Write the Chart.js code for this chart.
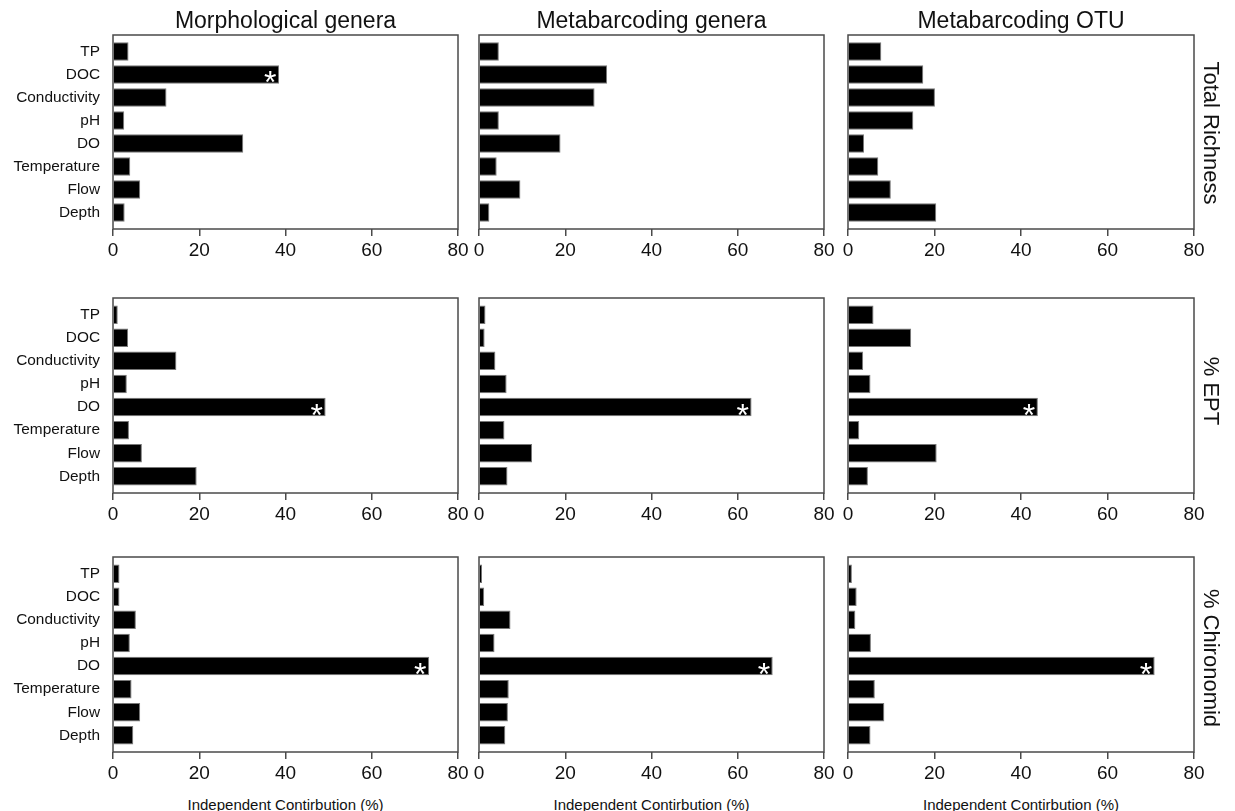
<!DOCTYPE html>
<html>
<head>
<meta charset="utf-8">
<script src="https://cdn.jsdelivr.net/npm/chart.js@4"></script>
<style>
  html, body { margin: 0; padding: 0; background: #fff; }
  #wrap { position: relative; width: 1235px; height: 811px; overflow: hidden; font-family: 'Liberation Sans', Arial, sans-serif; color: #111; }
  canvas { position: absolute; }
  .ctitle { position: absolute; font-size: 23px; line-height: 23px; white-space: nowrap; transform: translateX(-50%); }
  .rtitle { position: absolute; font-size: 22px; line-height: 22px; white-space: nowrap; transform: translate(-50%, -50%) rotate(90deg); }
  .xtitle { position: absolute; font-size: 15px; line-height: 15px; white-space: nowrap; transform: translateX(-50%); }
</style>
</head>
<body>
<div id="wrap"></div>
<script>
// ---------------- data ----------------
const categories = ['TP', 'DOC', 'Conductivity', 'pH', 'DO', 'Temperature', 'Flow', 'Depth'];
const xTicks = [0, 20, 40, 60, 80];
const columnTitles = ['Morphological genera', 'Metabarcoding genera', 'Metabarcoding OTU'];
const rowTitles = ['Total Richness', '% EPT', '% Chironomid'];
const xAxisTitle = 'Independent Contirbution (%)';

// Total Richness
const richnessMorph   = [3.6, 38.5, 12.4, 2.6, 30.2, 4.0, 6.3, 2.7];
const richnessMetaGen = [4.6, 29.7, 26.8, 4.6, 18.9, 4.1, 9.6, 2.4];
const richnessOTU     = [7.7, 17.4, 20.1, 15.1, 3.7, 7.0, 9.9, 20.4];
// % EPT
const eptMorph   = [1.1, 3.5, 14.7, 3.2, 49.3, 3.7, 6.7, 19.4];
const eptMetaGen = [1.5, 1.3, 3.8, 6.4, 63.2, 5.9, 12.3, 6.6];
const eptOTU     = [5.9, 14.6, 3.5, 5.2, 43.9, 2.6, 20.5, 4.6];
// % Chironomid
const chiroMorph   = [1.5, 1.5, 5.3, 3.9, 73.3, 4.3, 6.3, 4.7];
const chiroMetaGen = [0.7, 1.2, 7.3, 3.6, 68.1, 6.9, 6.7, 6.1];
const chiroOTU     = [0.9, 2.0, 1.7, 5.3, 70.9, 6.2, 8.4, 5.2];

// significant predictor (asterisk) per panel, by category name
const sigRichness = ['DOC', null, null];
const sigEPT      = ['DO', 'DO', 'DO'];
const sigChiro    = ['DO', 'DO', 'DO'];

const panelValues = [
  [richnessMorph, richnessMetaGen, richnessOTU],
  [eptMorph, eptMetaGen, eptOTU],
  [chiroMorph, chiroMetaGen, chiroOTU]
];
const panelSig = [sigRichness, sigEPT, sigChiro];

// ---------------- layout ----------------
const FONT = "'Liberation Sans', Arial, sans-serif";
const colPlot = [[113, 458], [479, 824], [848, 1194]];
const rowPlot = [[35, 229], [298, 493], [557, 752]];
const FRAME = '#4a4a4a';

const framePlugin = {
  id: 'frame',
  afterDatasetsDraw(chart) {
    const { ctx, chartArea: a } = chart;
    ctx.save();
    ctx.strokeStyle = FRAME;
    ctx.lineWidth = 1.5;
    ctx.strokeRect(a.left, a.top, a.right - a.left, a.bottom - a.top);
    ctx.restore();
  }
};

const starPlugin = {
  id: 'star',
  afterDatasetsDraw(chart, args, opts) {
    if (opts.index == null || opts.index < 0) return;
    const el = chart.getDatasetMeta(0).data[opts.index];
    if (!el) return;
    const { ctx } = chart;
    ctx.save();
    ctx.font = '40px ' + FONT;
    let m = ctx.measureText('*');
    const gw = m.actualBoundingBoxLeft + m.actualBoundingBoxRight;
    const size = 40 * 12 / gw;
    ctx.font = size + 'px ' + FONT;
    m = ctx.measureText('*');
    ctx.fillStyle = '#fff';
    ctx.textAlign = 'left';
    ctx.textBaseline = 'alphabetic';
    const cy = el.y + 2.5;
    const by = cy + (m.actualBoundingBoxAscent - m.actualBoundingBoxDescent) / 2;
    const bx = el.x - 3 - m.actualBoundingBoxRight;
    ctx.fillText('*', bx, by);
    ctx.restore();
  }
};

const wrap = document.getElementById('wrap');

for (let r = 0; r < 3; r++) {
  for (let c = 0; c < 3; c++) {
    const [pl, pr] = colPlot[c];
    const [pt, pb] = rowPlot[r];
    const yW = c === 0 ? 113 : 10;
    const padTop = 3, padRight = 14, xH = 36;
    const cv = document.createElement('canvas');
    const w = yW + (pr - pl) + padRight;
    const h = padTop + (pb - pt) + xH;
    cv.width = w; cv.height = h;
    cv.style.left = (pl - yW) + 'px';
    cv.style.top = (pt - padTop) + 'px';
    cv.style.width = w + 'px'; cv.style.height = h + 'px';
    wrap.appendChild(cv);

    const vals = panelValues[r][c];
    const sigName = panelSig[r][c];
    new Chart(cv, {
      type: 'bar',
      data: {
        datasets: [{
          data: vals.map((v, i) => ({ x: v, y: i })),
          backgroundColor: '#000',
          borderColor: '#777',
          borderWidth: 1,
          barPercentage: 0.8,
          categoryPercentage: 1
        }]
      },
      options: {
        indexAxis: 'y',
        responsive: false,
        maintainAspectRatio: false,
        animation: false,
        devicePixelRatio: 1,
        layout: { padding: { top: padTop, right: padRight, left: 0, bottom: 0 } },
        plugins: {
          legend: { display: false },
          tooltip: { enabled: false },
          star: { index: sigName ? categories.indexOf(sigName) : -1 }
        },
        scales: {
          x: {
            type: 'linear',
            min: xTicks[0],
            max: xTicks[xTicks.length - 1],
            offset: false,
            afterBuildTicks: s => { s.ticks = xTicks.map(v => ({ value: v })); },
            afterFit: s => { s.height = xH; s.paddingLeft = 0; s.paddingRight = 0; },
            border: { display: false },
            grid: { display: true, offset: false, drawOnChartArea: false, drawTicks: true, tickLength: 7, color: FRAME, lineWidth: 1.5 },
            ticks: { font: { family: FONT, size: 19 }, color: '#111', padding: 3, maxRotation: 0 }
          },
          y: {
            type: 'linear',
            reverse: true,
            offset: false,
            min: -0.72,
            max: categories.length - 1 + 0.72,
            afterBuildTicks: s => { s.ticks = categories.map((_, i) => ({ value: i })); },
            afterFit: s => { s.width = yW; s.paddingTop = 0; s.paddingBottom = 0; },
            border: { display: false },
            grid: { display: false, offset: false, drawTicks: false },
            ticks: {
              display: c === 0,
              autoSkip: false,
              font: { family: FONT, size: 15.4 },
              color: '#111',
              padding: 13,
              callback: v => categories[v] !== undefined ? categories[v] : ''
            }
          }
        }
      },
      plugins: [framePlugin, starPlugin]
    });
  }
}

// column titles
columnTitles.forEach((t, c) => {
  const d = document.createElement('div');
  d.className = 'ctitle';
  d.textContent = t;
  d.style.left = ((colPlot[c][0] + colPlot[c][1]) / 2) + 'px';
  d.style.top = '9px';
  wrap.appendChild(d);
});
// row titles (right side, rotated)
const rowTitleY = [133, 391, 658];
rowTitles.forEach((t, r) => {
  const d = document.createElement('div');
  d.className = 'rtitle';
  d.textContent = t;
  d.style.left = '1211px';
  d.style.top = rowTitleY[r] + 'px';
  wrap.appendChild(d);
});
// x axis titles under bottom row
colPlot.forEach(([a, b]) => {
  const d = document.createElement('div');
  d.className = 'xtitle';
  d.textContent = xAxisTitle;
  d.style.left = ((a + b) / 2) + 'px';
  d.style.top = '797px';
  wrap.appendChild(d);
});
</script>
</body>
</html>
